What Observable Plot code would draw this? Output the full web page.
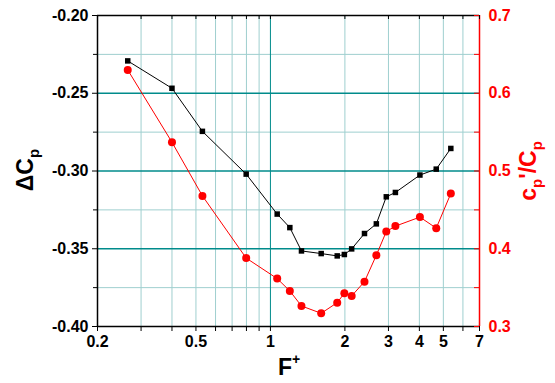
<!DOCTYPE html>
<html><head><meta charset="utf-8">
<script src="https://cdn.jsdelivr.net/npm/d3@7"></script>
<script src="https://cdn.jsdelivr.net/npm/@observablehq/plot@0.6"></script>
<style>body{margin:0;background:#fff} svg{font-family:"Liberation Sans",Arial,sans-serif}</style>
</head><body><div id="chart"></div><script>
// Data
const F        = [0.265, 0.40, 0.531, 0.798, 1.065, 1.198, 1.335, 1.604, 1.862, 1.99, 2.13, 2.40, 2.68, 2.94, 3.20, 4.02, 4.68, 5.36];
const deltaCp  = [-0.2292, -0.2468, -0.2745, -0.302, -0.3277, -0.3364, -0.3514, -0.3531, -0.3546, -0.3537, -0.3501, -0.3402, -0.334, -0.3166, -0.3138, -0.3026, -0.2988, -0.2855];
const cpRatio  = [0.630, 0.537, 0.468, 0.388, 0.3616, 0.3457, 0.3264, 0.317, 0.3307, 0.3428, 0.3393, 0.3577, 0.3917, 0.4221, 0.4291, 0.4407, 0.4265, 0.471];

const xTicks   = [0.2, 0.3, 0.4, 0.5, 0.6, 0.7, 0.8, 0.9, 1, 2, 3, 4, 5, 6, 7];
const xLabels  = [0.2, 0.5, 1, 2, 3, 4, 5, 7];
const xGridMinor = [0.3, 0.4, 0.5, 0.6, 0.7, 0.8, 0.9, 2, 3, 4, 5, 6];
const xGridMajor = [1];
const yMajor   = [-0.40, -0.35, -0.30, -0.25, -0.20];
const yMinor   = [-0.375, -0.325, -0.275, -0.225];
const yGridMajor = [-0.35, -0.30, -0.25];
const rMajor   = [0.3, 0.4, 0.5, 0.6, 0.7];
const rMinor   = [0.35, 0.45, 0.55, 0.65];

const xDomain = [0.2, 7];
const yDomain = [-0.40, -0.20];
const rDomain = [0.3, 0.7];
// map right-axis values onto the left y scale
const toLeft = v => yDomain[0] + (v - rDomain[0]) * (yDomain[1] - yDomain[0]) / (rDomain[1] - rDomain[0]);
const fromLeft = y => rDomain[0] + (y - yDomain[0]) * (rDomain[1] - rDomain[0]) / (yDomain[1] - yDomain[0]);

const black = F.map((f, i) => ({F: f, v: deltaCp[i]}));
const red = F.map((f, i) => ({F: f, v: toLeft(cpRatio[i])}));

const W = 555, H = 383, mL = 97, mR = 76, mT = 15, mB = 57;
const fw = W - mL - mR, fh = H - mT - mB;
const lightTeal = "#9fcfcf", darkTeal = "#008b8b";

const chart = Plot.plot({
  width: W, height: H,
  marginLeft: mL, marginRight: mR, marginTop: mT, marginBottom: mB,
  style: {fontFamily: '"Liberation Sans", Arial, sans-serif', fontSize: "16px", fontWeight: "bold", background: "#fff", color: "#000"},
  x: {type: "log", domain: xDomain, axis: null},
  y: {domain: yDomain, axis: null},
  marks: [
    Plot.ruleX(xGridMinor, {stroke: lightTeal, strokeWidth: 1}),
    Plot.ruleY(yMinor, {stroke: lightTeal, strokeWidth: 1}),
    Plot.ruleX(xGridMajor, {stroke: darkTeal, strokeWidth: 1}),
    Plot.ruleY(yGridMajor, {stroke: darkTeal, strokeWidth: 1.3}),
    // frame
    Plot.ruleY([yDomain[1]], {stroke: "#000", strokeWidth: 1.5}),
    Plot.ruleY([yDomain[0]], {stroke: "#000", strokeWidth: 1.5}),
    Plot.ruleX([xDomain[0]], {stroke: "#000", strokeWidth: 1.5}),
    Plot.ruleX([xDomain[1]], {stroke: "red", strokeWidth: 1.5}),
    // inward ticks on top and right edges
    Plot.tickX(xTicks, {x: d => d, stroke: "#000", insetBottom: fh - 4}),
    Plot.tickY(rMajor.concat(rMinor).map(toLeft), {y: d => d, stroke: "red", insetLeft: fw - 5}),
    // axes
    Plot.axisX({ticks: xTicks, tickFormat: () => "", tickSize: 5, label: null}),
    Plot.text(xLabels, {x: d => d, text: d => String(d), frameAnchor: "bottom", dy: 20, fontSize: 16, fontWeight: "bold", fill: "#000"}),
    Plot.axisY({anchor: "left", ticks: yMajor, tickFormat: d => d.toFixed(2), tickSize: 5, tickPadding: 4, fontSize: 16, label: null}),
    Plot.axisY({anchor: "left", ticks: yMinor, tickFormat: () => "", tickSize: 4, label: null}),
    Plot.axisY({anchor: "right", ticks: rMajor.map(toLeft), tickFormat: d => fromLeft(d).toFixed(1), tickSize: 0, tickPadding: 9, fill: "red", fontSize: 16, label: null}),
    // data
    Plot.line(red, {x: "F", y: "v", stroke: "red", strokeWidth: 1}),
    Plot.dot(red, {x: "F", y: "v", fill: "red", r: 4, stroke: "none"}),
    Plot.line(black, {x: "F", y: "v", stroke: "#000", strokeWidth: 1}),
    Plot.dot(black, {x: "F", y: "v", fill: "#000", symbol: "square", r: 3.1, stroke: "none"})
  ]
});

const svg = d3.select(chart);
// left title ΔCp
const lt = svg.append("text").attr("transform", "translate(33,170) rotate(-90)")
  .attr("text-anchor", "middle").attr("font-size", 23).attr("font-weight", "bold").attr("fill", "#000");
lt.append("tspan").text("ΔC");
lt.append("tspan").attr("dy", 6).attr("font-size", 15).text("p");
// right title cp'/Cp
const rt = svg.append("text").attr("transform", "translate(536,171) rotate(-90)")
  .attr("text-anchor", "middle").attr("font-size", 23).attr("font-weight", "bold").attr("fill", "red");
rt.append("tspan").text("c");
rt.append("tspan").attr("dy", 6).attr("font-size", 15).text("p");
rt.append("tspan").attr("dy", -6).text("'/C");
rt.append("tspan").attr("dy", 6).attr("font-size", 15).text("p");
// bottom title F+
const bt = svg.append("text").attr("x", 289).attr("y", 375)
  .attr("text-anchor", "middle").attr("font-size", 23).attr("font-weight", "bold").attr("fill", "#000");
bt.append("tspan").text("F");
bt.append("tspan").attr("dy", -11).attr("font-size", 14).text("+");

document.getElementById("chart").appendChild(chart);
</script></body></html>
